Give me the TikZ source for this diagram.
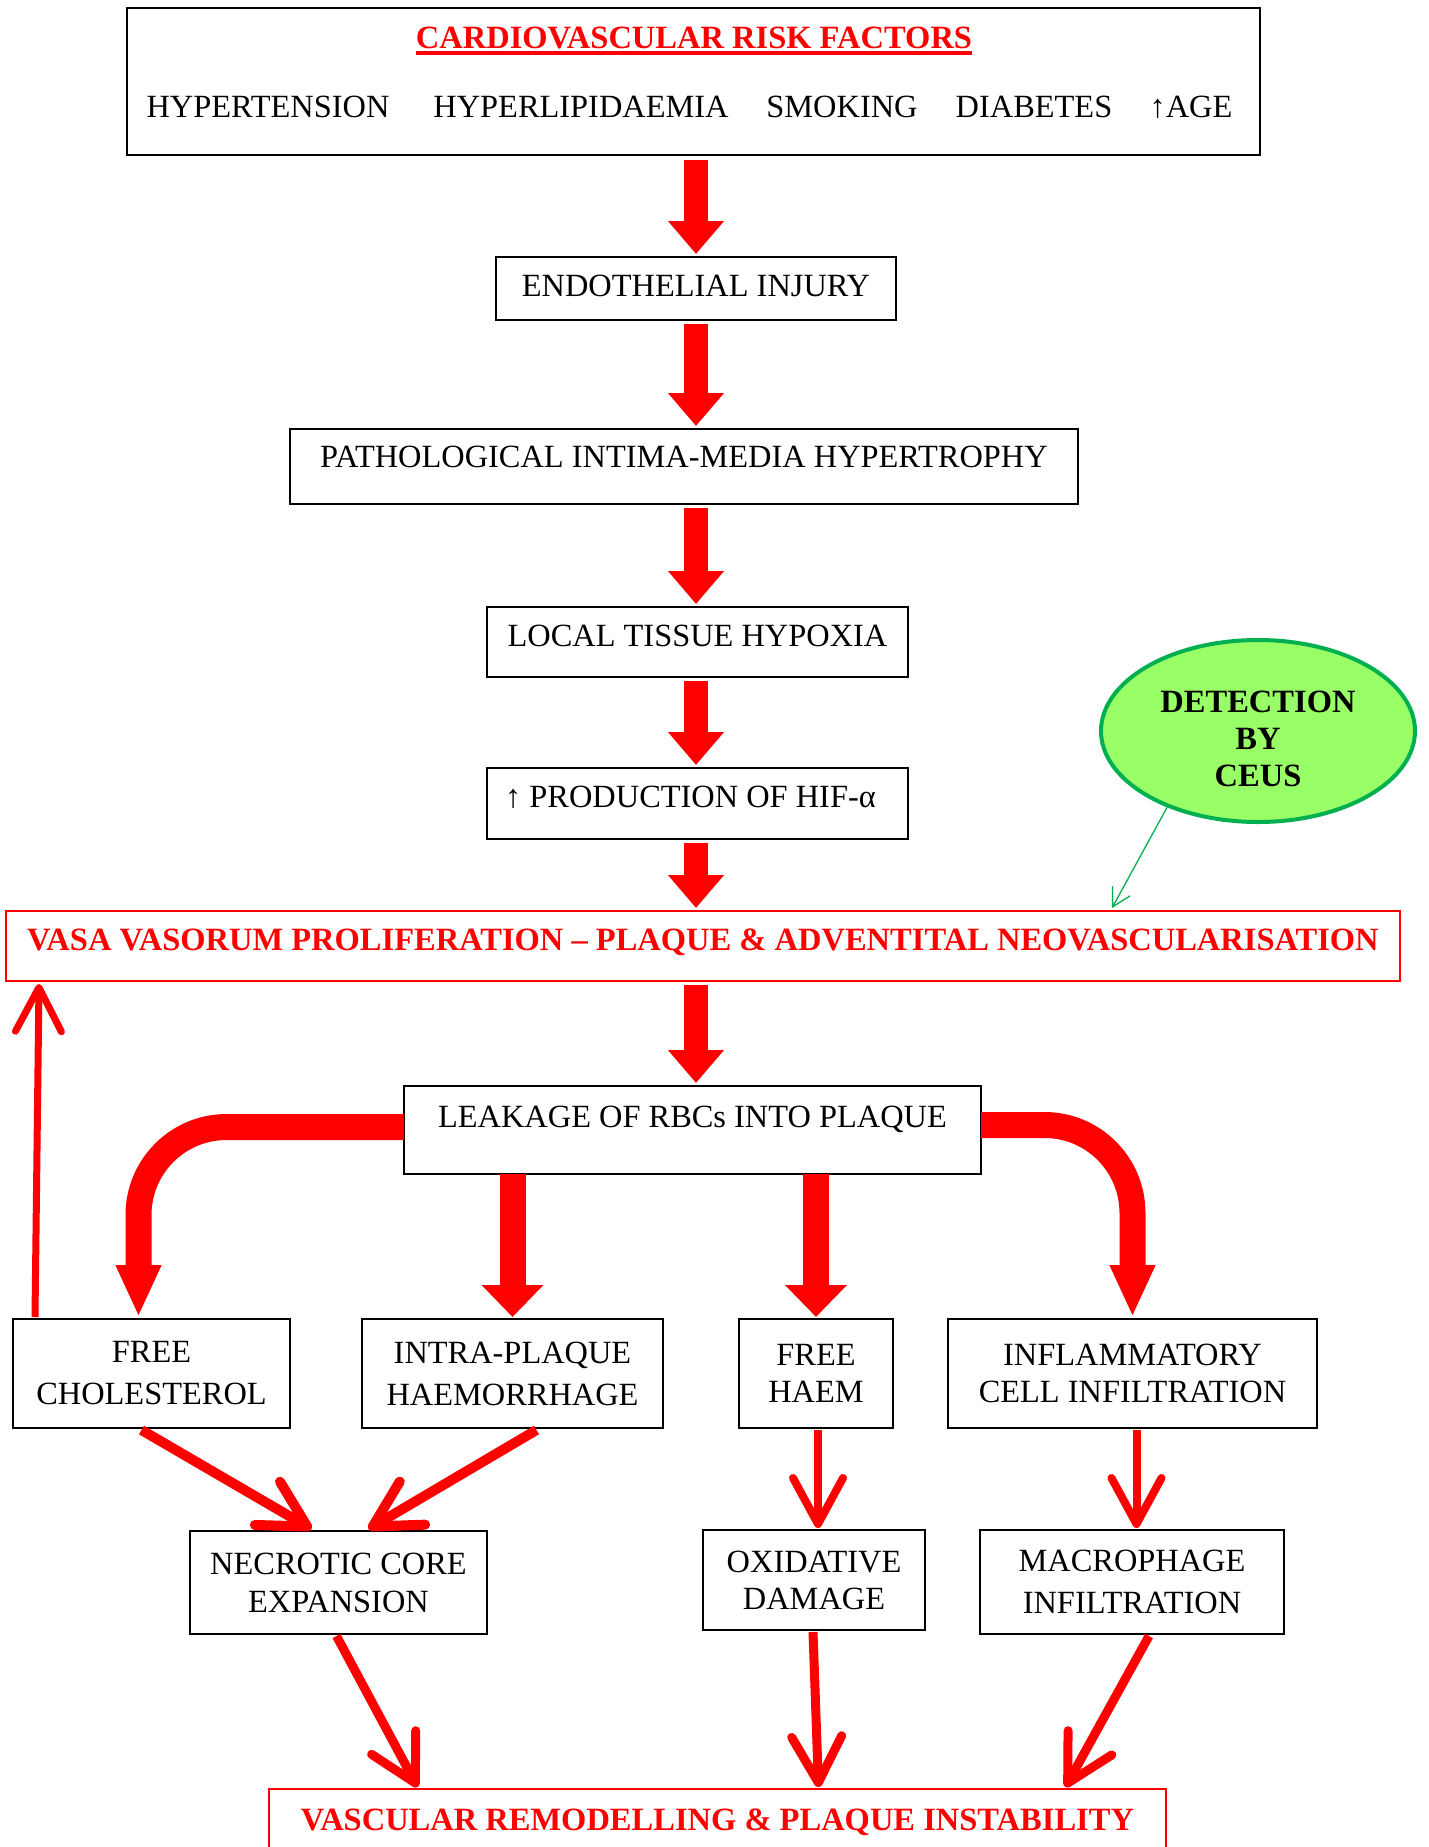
\documentclass[tikz,border=0pt]{standalone}
\usepackage{fontspec}
\setmainfont{Liberation Serif}
\usetikzlibrary{arrows.meta,shapes.geometric,calc}
\definecolor{cvred}{HTML}{FF0000}
\definecolor{ceusfill}{HTML}{99FF66}
\definecolor{ceusline}{HTML}{00B050}
\newcommand\myul[1]{\setbox0=\hbox{#1}\rlap{\rule[-6.5pt]{\wd0}{3.5pt}}\box0}
\begin{document}
\begin{tikzpicture}[x=1pt,y=-1pt,
  txt/.style={font=\fontsize{32.4}{38}\selectfont, inner sep=0pt, outer sep=0pt},
  box/.style={txt, draw=black, line width=2pt, align=center},
  one/.style={text height=21pt, text depth=#1},
  rbox/.style={box, draw=cvred, text=cvred, font=\fontsize{32.5}{38}\selectfont\bfseries},
  blk/.style={draw=cvred, line width=24pt, -{Triangle[length=33pt 0, width=54pt 0]}, shorten <=4pt, shorten >=3pt},
  mid/.style={draw=cvred, line width=26pt, -{Triangle[length=32pt 0, width=60pt 0]}, shorten >=2pt},
  curvy/.style={draw=cvred, line width=26pt, rounded corners=88pt, -{Triangle[length=52pt 0, width=42pt 0]}, shorten >=2pt},
  redline/.style={draw=cvred, line width=#1, -{Straight Barb[length=46pt 0, width=50pt 0, round]}},
]
\useasboundingbox (0,0) rectangle (1429,1847);
\fill[white] (0,0) rectangle (1429,1847);
\clip (0,0) rectangle (1429,1847);

% top box
\node[draw=black, line width=2pt, minimum width=1133pt, minimum height=147pt, inner sep=0pt] (risk) at (693.5,81.5) {};
\node[txt, anchor=base, text=cvred, font=\fontsize{32.5}{38}\selectfont\bfseries] (title) at (694,48.5) {\myul{CARDIOVASCULAR RISK FACTORS}};
\node[txt, anchor=base] (f1) at (268,117.5) {HYPERTENSION};
\node[txt, anchor=base] (f2) at (581,117.5) {HYPERLIPIDAEMIA};
\node[txt, anchor=base] (f3) at (842,117.5) {SMOKING};
\node[txt, anchor=base] (f4) at (1034,117.5) {DIABETES};
\node[txt, anchor=base] (f5) at (1191,117.5) {↑AGE};

% chain
\node[box, one=5pt, minimum width=400pt, minimum height=63pt] (endo) at (696,288.5) {ENDOTHELIAL INJURY};
\node[box, one=19pt, minimum width=788pt, minimum height=75pt] (patho) at (684,466.5) {PATHOLOGICAL INTIMA-MEDIA HYPERTROPHY};
\node[box, one=12pt, minimum width=421pt, minimum height=70pt] (hypox) at (697.5,642) {LOCAL TISSUE HYPOXIA};
\node[box, one=13pt, minimum width=421pt, minimum height=71pt] (hif) at (697.5,803.5) {↑ PRODUCTION OF HIF-α\hspace*{14pt}};
\node[rbox, one=12pt, minimum width=1394pt, minimum height=70pt] (vasa) at (703,946) {VASA VASORUM PROLIFERATION – PLAQUE \& ADVENTITAL NEOVASCULARISATION};
\node[box, one=26pt, minimum width=577pt, minimum height=88pt] (leak) at (692.5,1130) {LEAKAGE OF RBCs INTO PLAQUE};

\coordinate (ax) at (696,0);
\draw[blk] (risk.south -| ax) -- (endo.north -| ax);
\draw[blk] (endo.south -| ax) -- (patho.north -| ax);
\draw[blk] (patho.south -| ax) -- (hypox.north -| ax);
\draw[blk] (hypox.south -| ax) -- (hif.north -| ax);
\draw[blk] (hif.south -| ax) -- (vasa.north -| ax);
\draw[blk] (vasa.south -| ax) -- (leak.north -| ax);

% ellipse
\node[ellipse, draw=ceusline, fill=ceusfill, line width=4pt, minimum width=314pt, minimum height=182pt, inner sep=0pt, align=center, font=\fontsize{32.5}{37}\selectfont\bfseries] (ceus) at (1258,731) {\rule{0pt}{37pt}DETECTION\\BY\\CEUS};
\coordinate (gtip) at (1112,908);
\draw[draw=ceusline, line width=1.3pt, -{Straight Barb[length=18pt 0, width=20pt 0]}] (ceus.220) -- (gtip);

% second row
\node[box, minimum width=277pt, minimum height=109pt, font=\fontsize{32.4}{42}\selectfont] (chol) at (151.5,1373.5) {FREE\\CHOLESTEROL};
\node[box, minimum width=301pt, minimum height=109pt, font=\fontsize{32.4}{42}\selectfont] (intra) at (512.5,1373.5) {INTRA-PLAQUE\\HAEMORRHAGE};
\node[box, minimum width=154pt, minimum height=109pt, font=\fontsize{32.4}{37}\selectfont] (haem) at (816,1373.5) {FREE\\HAEM};
\node[box, minimum width=369pt, minimum height=109pt, font=\fontsize{32.4}{37}\selectfont] (infl) at (1132.5,1373.5) {INFLAMMATORY\\CELL INFILTRATION};

\draw[curvy] ($(leak.west)+(0,-3)$) -| ($(chol.north)+(-13,0)$);
\draw[curvy] ($(leak.east)+(0,-5)$) -| (infl.north);
\draw[mid] (leak.south -| intra) -- (intra.north);
\draw[mid] (leak.south -| haem) -- (haem.north);

% feedback
\draw[redline=7pt, -{Straight Barb[length=44pt 0, width=46pt 0, round]}] ($(chol.north west)+(22,-2)$) -- ($(vasa.south west)+(33,3)$);

% third row
\node[box, minimum width=297pt, minimum height=103pt, font=\fontsize{32.4}{38}\selectfont] (necro) at (338.5,1582.5) {NECROTIC CORE\\EXPANSION};
\node[box, minimum width=222pt, minimum height=100pt, font=\fontsize{32.4}{37}\selectfont] (oxid) at (814,1580) {OXIDATIVE\\DAMAGE};
\node[box, minimum width=304pt, minimum height=104pt, font=\fontsize{32.4}{42}\selectfont] (macro) at (1132,1582) {MACROPHAGE\\INFILTRATION};

\draw[redline=10pt] ($(chol.south)+(-10,2)$) -- ($(necro.north)+(-27,-2)$);
\draw[redline=10pt] ($(intra.south)+(24,2)$) -- ($(necro.north)+(30,-2)$);
\draw[redline=8pt] ($(haem.south)+(2,2)$) -- ($(haem.south |- oxid.north)+(2,-2)$);
\draw[redline=8pt] ($(infl.south)+(4,2)$) -- ($(infl.south |- macro.north)+(4,-2)$);

% bottom
\node[rbox, one=8pt, minimum width=897pt, minimum height=70pt] (vasc) at (717.5,1824) {VASCULAR REMODELLING \& PLAQUE INSTABILITY};
\draw[redline=9pt] ($(necro.south)+(-2,2)$) -- ($(vasc.north)+(-300,-2)$);
\draw[redline=9pt] ($(oxid.south)+(-1,2)$) -- ($(vasc.north)+(101,-2)$);
\draw[redline=9pt] ($(macro.south)+(17,2)$) -- ($(vasc.north)+(348,-2)$);
\end{tikzpicture}
\end{document}
